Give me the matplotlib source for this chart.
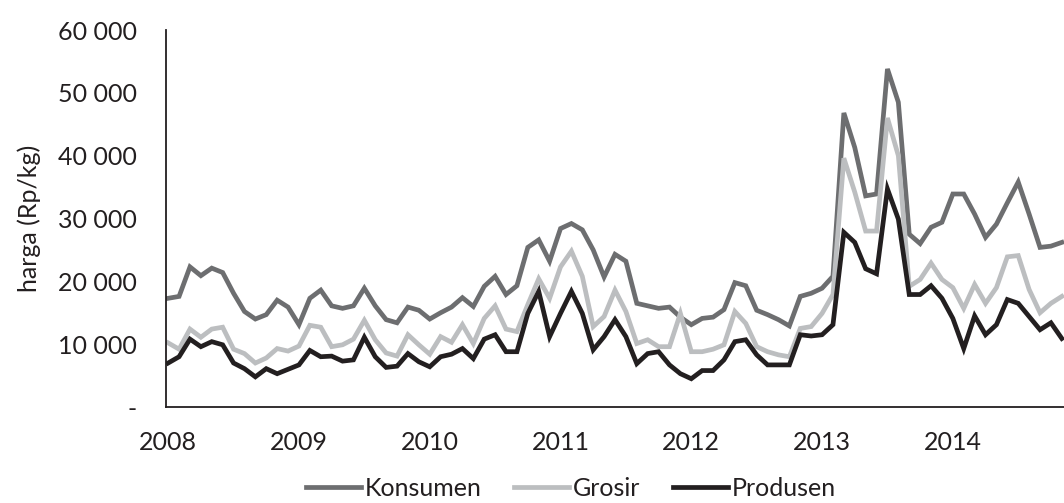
import matplotlib
matplotlib.use('Agg')
import matplotlib.pyplot as plt
from matplotlib.ticker import FuncFormatter

# monthly prices (Rp/kg), Jan 2008 .. Nov 2014
years = ['2008', '2009', '2010', '2011', '2012', '2013', '2014']
konsumen = [
    17300, 17600, 22300, 20900, 22100, 21400, 18100, 15200, 14000, 14700, 17000, 15900,
    13100, 17300, 18600, 16100, 15700, 16100, 18900, 16100, 13900, 13400, 15900, 15400,
    14000, 15000, 15900, 17400, 16000, 19200, 20800, 17900, 19300, 25400, 26600, 23200,
    28400, 29200, 28200, 25000, 20700, 24300, 23200, 16500, 16100, 15700, 15900, 14300,
    13100, 14100, 14300, 15500, 19800, 19300, 15400, 14700, 13900, 12900, 17600, 18100,
    18900, 20800, 46800, 41300, 33600, 33900, 53800, 48500, 27500, 26000, 28600, 29400,
    33900, 33900, 30700, 27000, 29100, 32500, 35800, 30700, 25400, 25600, 26200,
]
grosir = [
    10200, 9200, 12400, 11100, 12400, 12700, 9200, 8500, 7000, 7800, 9300, 8900,
    9700, 13000, 12700, 9600, 9900, 10800, 13800, 10700, 8600, 8100, 11500, 9900,
    8400, 11200, 10300, 13100, 10100, 14100, 16100, 12400, 12000, 16300, 20400, 17300,
    22300, 24800, 20800, 12800, 14400, 18600, 15200, 10100, 10700, 9600, 9600, 14900,
    8800, 8800, 9200, 9900, 15200, 13300, 9600, 8800, 8300, 8000, 12500, 12800,
    14900, 17900, 39600, 34200, 28000, 28000, 46000, 40000, 19200, 20300, 22900, 20300,
    19000, 15700, 19500, 16500, 19000, 23900, 24100, 18700, 15000, 16500, 17600,
]
produsen = [
    7000, 8000, 10800, 9600, 10400, 9900, 7000, 6100, 4800, 6100, 5300, 6000,
    6700, 9000, 8000, 8100, 7300, 7500, 11100, 8000, 6300, 6500, 8500, 7200,
    6400, 8000, 8400, 9300, 7700, 10800, 11500, 8800, 8800, 14900, 18400, 11200,
    14900, 18400, 14900, 9100, 11200, 13900, 11200, 6900, 8500, 8800, 6700, 5300,
    4500, 5800, 5800, 7500, 10400, 10700, 8300, 6700, 6700, 6700, 11500, 11300,
    11500, 13100, 27800, 26200, 22000, 21200, 34700, 29900, 17900, 17900, 19300, 17300,
    14100, 9300, 14500, 11500, 13100, 17100, 16500, 14400, 12300, 13400, 10900,
]

TEXT = '#231f20'
FS = 18
plt.rcParams['font.family'] = ['Lato', 'DejaVu Sans']

fig = plt.figure(figsize=(10.64, 5.03), dpi=100)
ax = fig.add_axes([166 / 1064, 96 / 503, 898 / 1064, 377 / 503])

x = list(range(len(konsumen)))
ax.plot(x, konsumen, color='#6d6e70', linewidth=3.4, label='Konsumen', solid_joinstyle='miter')
ax.plot(x, grosir, color='#bcbec0', linewidth=3.4, label='Grosir', solid_joinstyle='miter')
ax.plot(x, produsen, color=TEXT, linewidth=3.4, label='Produsen', solid_joinstyle='miter')

ax.set_xlim(-0.2, 82.2)
ax.set_ylim(0, 60000)

ax.set_xticks([12 * i for i in range(len(years))])
ax.set_xticklabels(years)
ax.set_yticks(range(0, 60001, 10000))
ax.yaxis.set_major_formatter(FuncFormatter(
    lambda v, p: '-' if v == 0 else f'{int(v):,}'.replace(',', ' ')))

ax.tick_params(axis='both', length=0, labelsize=FS, colors=TEXT)
ax.tick_params(axis='y', pad=21)
ax.tick_params(axis='x', pad=17)

for side in ['top', 'right']:
    ax.spines[side].set_visible(False)
for side in ['left', 'bottom']:
    ax.spines[side].set_color(TEXT)
    ax.spines[side].set_linewidth(1.3)

ax.set_ylabel('harga (Rp/kg)', fontsize=FS, color=TEXT, labelpad=12)

fig.legend(loc='center', bbox_to_anchor=(571 / 1064, 15 / 503), ncol=3,
           frameon=False, fontsize=FS, handlelength=2.2, handletextpad=0.15,
           columnspacing=1.3, labelcolor=TEXT, borderpad=0.1)

fig.savefig('out.png', dpi=100)
